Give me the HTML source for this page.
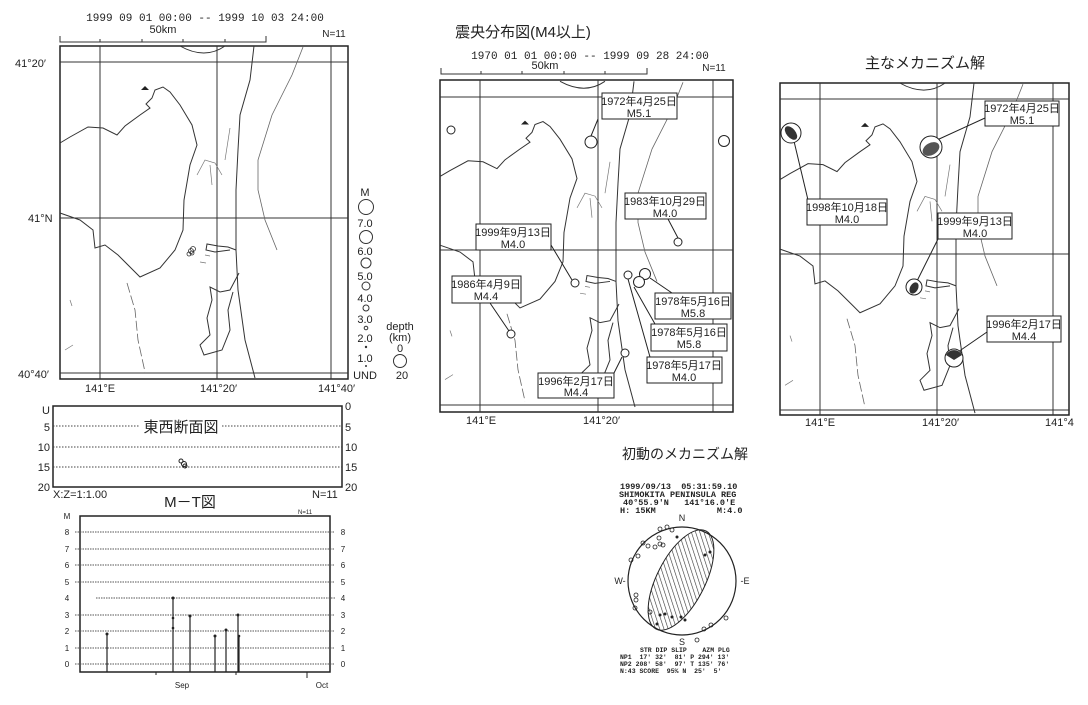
<!DOCTYPE html>
<html><head><meta charset="utf-8">
<style>
html,body{margin:0;padding:0;background:#fff;width:1088px;height:705px;overflow:hidden}
svg{display:block}
text{font-family:"Liberation Sans","Noto Sans CJK JP",sans-serif;fill:#222}
.m,.m text{font-family:"Liberation Mono","Noto Sans CJK JP",monospace;white-space:pre}
.lb{font-family:"Liberation Sans Narrow","Liberation Sans","Noto Sans CJK JP",sans-serif;font-size:11px}
</style></head><body>
<svg width="1088" height="705" viewBox="0 0 1088 705" xmlns="http://www.w3.org/2000/svg" xml:space="preserve">
<defs>
<pattern id="h" width="4" height="4" patternUnits="userSpaceOnUse" patternTransform="rotate(45)">
<line x1="0" y1="0" x2="0" y2="4" stroke="#333" stroke-width="1.2"/></pattern>
<g id="coast" fill="none" stroke="#333" stroke-width="1">
<path d="M60,143 L70,137 L88,127 L103,128 L117,135 L125,126 L140,115 L150,108 L146,104 L152,98 L155,90 L163,87 L170,92 L180,105 L192,125 L197,145 L190,165 L184,200 L183,230 L175,250 L160,268 L140,277 L133,270 L118,255 L105,245 L95,248 L93,230 L80,220 L60,213"/>
<path d="M254,46 L250,80 L240,115 L238,150 L236,190 L236,250 L238,290 L245,340 L255,378"/>
<path d="M303,47 L292,75 L272,115 L258,160 L258,190 L265,220 L277,250" stroke="#666" stroke-width="0.8"/>
<path d="M180,46 Q205,60 225,46"/>
<path d="M236,250 L228,247 L218,246 L207,244 L206,250 L215,252 L230,250"/>
<path d="M239,273 L230,290 L220,292 L210,287 L212,300 L207,318 L210,335 L200,345 L204,355 L222,350 L230,330 L228,310 L233,292"/>
<path d="M127,283 L135,310 L138,340 L145,372" stroke="#666" stroke-width="0.8" stroke-dasharray="10,3"/>
<path d="M197,175 L205,160 L215,163 L222,175 M210,165 L212,185 M230,128 L225,160" stroke="#777" stroke-width="0.7"/>
<path d="M65,350 L73,345 M70,300 L72,306 M200,262 L206,263 M205,255 L210,256" stroke="#777" stroke-width="0.7"/>
<path d="M141,90 L145,86 L149,90 Z" fill="#222" stroke="none"/>
</g>
</defs>

<!-- LEFT MAP -->
<text x="205" y="21" font-size="11" text-anchor="middle" class="m">1999 09 01 00:00 -- 1999 10 03 24:00</text>
<text x="163" y="33" font-size="11" text-anchor="middle">50km</text>
<text x="334" y="37" font-size="10" text-anchor="middle">N=11</text>
<path d="M60,36 V42 H266 V36 M100,42 V39 M142,42 V39 M183,42 V39 M225,42 V39" fill="none" stroke="#333"/>
<rect x="60" y="46" width="288" height="333" fill="none" stroke="#222" stroke-width="1.5"/>
<path d="M60,62 H348 M60,218 H348 M60,373 H348 M100,46 V379 M217,46 V379 M331,46 V379" stroke="#333" stroke-width="1"/>
<use href="#coast"/>
<g fill="none" stroke="#333" stroke-width="0.8"><circle cx="191" cy="251" r="2.5"/><circle cx="193" cy="249" r="2.5"/><circle cx="189" cy="254" r="2"/><circle cx="192" cy="253" r="2"/></g>
<text x="15" y="67" font-size="11">41°20′</text>
<text x="28" y="222" font-size="11">41°N</text>
<text x="18" y="378" font-size="11">40°40′</text>
<text x="85" y="392" font-size="11">141°E</text>
<text x="200" y="392" font-size="11">141°20′</text>
<text x="318" y="392" font-size="11">141°40′</text>
<g font-size="11" text-anchor="middle">
<text x="365" y="196">M</text>
<text x="365" y="227">7.0</text><text x="365" y="255">6.0</text><text x="365" y="280">5.0</text><text x="365" y="302">4.0</text><text x="365" y="323">3.0</text><text x="365" y="342">2.0</text><text x="365" y="362">1.0</text><text x="365" y="379">UND</text>
<text x="400" y="330">depth</text><text x="400" y="341">(km)</text><text x="400" y="352">0</text><text x="402" y="379">20</text>
</g>
<g fill="none" stroke="#333"><circle cx="366" cy="207" r="7.5"/><circle cx="366" cy="237" r="6.5"/><circle cx="366" cy="263" r="5"/><circle cx="366" cy="286" r="4"/><circle cx="366" cy="308" r="3"/><circle cx="366" cy="328" r="1.8"/><circle cx="400" cy="361" r="6.5"/></g>
<circle cx="366" cy="347" r="1.2" fill="#333"/><circle cx="366" cy="366" r="1" fill="#333"/>

<!-- CROSS SECTION -->
<rect x="53" y="406" width="289" height="81" fill="none" stroke="#222" stroke-width="1.5"/>
<path d="M53,426 H140 M222,426 H342 M53,447 H342 M53,467 H342" stroke="#444" stroke-dasharray="1.5,1.5"/>
<text x="181" y="432" font-size="15" text-anchor="middle">東西断面図</text>
<g font-size="11" text-anchor="end"><text x="50" y="414">U</text><text x="50" y="431">5</text><text x="50" y="451">10</text><text x="50" y="471">15</text><text x="50" y="491">20</text></g>
<g font-size="11"><text x="345" y="410">0</text><text x="345" y="431">5</text><text x="345" y="451">10</text><text x="345" y="471">15</text><text x="345" y="491">20</text></g>
<g fill="none" stroke="#222"><circle cx="181" cy="461" r="2"/><circle cx="184" cy="464" r="2.5"/><circle cx="185" cy="466" r="2"/></g>
<text x="53" y="498" font-size="11">X:Z=1:1.00</text>
<text x="312" y="498" font-size="11">N=11</text>

<!-- M-T -->
<text x="190" y="507" font-size="15" text-anchor="middle">M－T図</text>
<text x="298" y="514" font-size="6">N=11</text>
<rect x="80" y="516" width="250" height="156" fill="none" stroke="#222" stroke-width="1.5"/>
<g stroke="#555" stroke-dasharray="1.5,1"><path d="M75,532H335M75,549H335M75,565H335M75,582H335M96,598H335M75,615H335M75,631H335M75,648H335M75,664H335"/></g>
<g font-size="8" text-anchor="middle"><text x="67" y="519">M</text>
<text x="67" y="535">8</text><text x="67" y="552">7</text><text x="67" y="568">6</text><text x="67" y="585">5</text><text x="67" y="601">4</text><text x="67" y="618">3</text><text x="67" y="634">2</text><text x="67" y="651">1</text><text x="67" y="667">0</text>
<text x="343" y="535">8</text><text x="343" y="552">7</text><text x="343" y="568">6</text><text x="343" y="585">5</text><text x="343" y="601">4</text><text x="343" y="618">3</text><text x="343" y="634">2</text><text x="343" y="651">1</text><text x="343" y="667">0</text>
<text x="182" y="688">Sep</text><text x="322" y="688">Oct</text></g>
<g stroke="#222" stroke-width="1.2"><path d="M107,634V672M173,598V672M190,616V672M215,636V672M226,630V672M238,615V672M239,636V672"/></g>
<g fill="#222"><circle cx="107" cy="634" r="1.5"/><circle cx="173" cy="598" r="1.5"/><circle cx="173" cy="618" r="1.3"/><circle cx="173" cy="628" r="1.3"/><circle cx="190" cy="616" r="1.5"/><circle cx="215" cy="636" r="1.5"/><circle cx="226" cy="630" r="1.5"/><circle cx="238" cy="615" r="1.5"/><circle cx="239" cy="636" r="1.3"/></g>
<path d="M156,672v3M236,672v3M307,672v6" stroke="#222"/>

<!-- MIDDLE MAP -->
<text x="523" y="37" font-size="15" text-anchor="middle">震央分布図(M4以上)</text>
<text x="590" y="59" font-size="11" text-anchor="middle" class="m">1970 01 01 00:00 -- 1999 09 28 24:00</text>
<text x="545" y="69" font-size="11" text-anchor="middle">50km</text>
<text x="714" y="71" font-size="10" text-anchor="middle">N=11</text>
<path d="M441,68 V74 H647 V68 M481,74 V71 M522,74 V71 M564,74 V71 M605,74 V71" fill="none" stroke="#333"/>
<rect x="440" y="80" width="293" height="332" fill="none" stroke="#222" stroke-width="1.5"/>
<path d="M440,97 H733 M440,250 H733 M440,405 H733 M480,80 V412 M598,80 V412 M713,80 V412" stroke="#333"/>
<g transform="translate(380,36.2) scale(1,0.981)"><use href="#coast"/></g>
<g fill="#fff" stroke="#222" stroke-width="1">
<path d="M598,119 L591,136 M668,219 L678,238 M551,245 L572,280 M490,303 L509,331 M650,278 L672,293 M634,287 L655,324 M628,279 L650,357 M614,373 L622,357" fill="none"/>
<circle cx="451" cy="130" r="4"/><circle cx="591" cy="142" r="6"/><circle cx="724" cy="141" r="5.5"/><circle cx="678" cy="242" r="4"/><circle cx="575" cy="283" r="4"/><circle cx="511" cy="334" r="4"/><circle cx="628" cy="275" r="4"/><circle cx="645" cy="274" r="5.5"/><circle cx="639" cy="282" r="5.5"/><circle cx="625" cy="353" r="4"/>
<rect x="602" y="93" width="75" height="26"/><rect x="625" y="193" width="81" height="26"/><rect x="476" y="224" width="75" height="26"/><rect x="452" y="276" width="69" height="27"/><rect x="655" y="293" width="76" height="26"/><rect x="651" y="324" width="76" height="27"/><rect x="647" y="357" width="75" height="26"/><rect x="538" y="373" width="76" height="25"/>
</g>
<g class="lb" text-anchor="middle">
<text x="639" y="105">1972年4月25日</text><text x="639" y="117">M5.1</text>
<text x="665" y="205">1983年10月29日</text><text x="665" y="217">M4.0</text>
<text x="513" y="236">1999年9月13日</text><text x="513" y="248">M4.0</text>
<text x="486" y="288">1986年4月9日</text><text x="486" y="300">M4.4</text>
<text x="693" y="305">1978年5月16日</text><text x="693" y="317">M5.8</text>
<text x="689" y="336">1978年5月16日</text><text x="689" y="348">M5.8</text>
<text x="684" y="369">1978年5月17日</text><text x="684" y="381">M4.0</text>
<text x="576" y="385">1996年2月17日</text><text x="576" y="396">M4.4</text>
</g>
<text x="466" y="424" font-size="11">141°E</text>
<text x="583" y="424" font-size="11">141°20′</text>

<!-- RIGHT MAP -->
<text x="925" y="68" font-size="15" text-anchor="middle">主なメカニズム解</text>
<rect x="780" y="83" width="289" height="332" fill="none" stroke="#222" stroke-width="1.5"/>
<path d="M780,99 H1069 M780,254 H1069 M780,410 H1069 M820,83 V415 M937,83 V415 M1053,83 V415" stroke="#333"/>
<g transform="translate(720,37.4) scale(1,0.994)"><use href="#coast"/></g>
<g stroke="#222" fill="none"><path d="M937,140 L985,118 M793,137 L808,200 M938,239 L916,283 M987,332 L958,352"/></g>
<g stroke="#222" fill="#fff">
<circle cx="931" cy="147" r="11"/><circle cx="791" cy="133" r="10"/><circle cx="914" cy="287" r="8"/><circle cx="954" cy="358" r="9"/>
</g>
<g fill="#333">
<ellipse cx="931" cy="149" rx="9" ry="6" transform="rotate(-30 931 149)" fill="#555"/>
<ellipse cx="791" cy="133" rx="8" ry="4.5" transform="rotate(50 791 133)"/>
<ellipse cx="914" cy="288" rx="6" ry="4" transform="rotate(-60 914 288)"/>
<path d="M946,355 A9,9 0 0 1 962,355 L954,360 Z"/>
</g>
<g fill="#fff" stroke="#222">
<rect x="985" y="101" width="74" height="25"/><rect x="807" y="199" width="80" height="26"/><rect x="938" y="213" width="74" height="26"/><rect x="987" y="316" width="74" height="26"/>
</g>
<g class="lb" text-anchor="middle">
<text x="1022" y="112">1972年4月25日</text><text x="1022" y="124">M5.1</text>
<text x="847" y="211">1998年10月18日</text><text x="847" y="223">M4.0</text>
<text x="975" y="225">1999年9月13日</text><text x="975" y="237">M4.0</text>
<text x="1024" y="328">1996年2月17日</text><text x="1024" y="340">M4.4</text>
</g>
<text x="805" y="426" font-size="11">141°E</text>
<text x="922" y="426" font-size="11">141°20′</text>
<text x="1045" y="426" font-size="11">141°4</text>

<!-- MECHANISM -->
<text x="685" y="459" font-size="14" text-anchor="middle">初動のメカニズム解</text>
<g class="m" font-size="8.5" font-weight="bold">
<text x="620" y="489">1999/09/13  05:31:59.10</text>
<text x="619" y="497">SHIMOKITA PENINSULA REG</text>
<text x="623" y="505">40°55.9'N   141°16.0'E</text>
<text x="620" y="513">H: 15KM            M:4.0</text>
</g>
<g class="m" font-size="6.5" font-weight="bold">
<text x="640" y="652">STR DIP SLIP    AZM PLG</text>
<text x="620" y="659">NP1  17' 32'  81' P 294' 13'</text>
<text x="620" y="666">NP2 208' 58'  97' T 135' 76'</text>
<text x="620" y="673">N:43 SCORE  95% N  25'  5'</text>
</g>
<circle cx="682" cy="581" r="54" fill="none" stroke="#222" stroke-width="1.2"/>
<ellipse cx="681" cy="580" rx="55" ry="24" transform="rotate(-63 681 580)" fill="url(#h)" stroke="#222"/>
<g font-size="9" text-anchor="middle"><text x="682" y="521">N</text><text x="682" y="645">S</text><text x="620" y="584">W-</text><text x="745" y="584">-E</text></g>
<g fill="none" stroke="#222" stroke-width="0.8"><circle cx="660" cy="529" r="2"/><circle cx="667" cy="527" r="2"/><circle cx="672" cy="530" r="2"/><circle cx="659" cy="538" r="2"/><circle cx="660" cy="544" r="2"/><circle cx="643" cy="543" r="2"/><circle cx="648" cy="546" r="2"/><circle cx="655" cy="547" r="2"/><circle cx="663" cy="545" r="2"/><circle cx="638" cy="556" r="2"/><circle cx="631" cy="560" r="2"/><circle cx="636" cy="595" r="2"/><circle cx="636" cy="600" r="2"/><circle cx="635" cy="608" r="2"/><circle cx="650" cy="612" r="2"/><circle cx="704" cy="629" r="2"/><circle cx="711" cy="625" r="2"/><circle cx="697" cy="640" r="2"/><circle cx="726" cy="618" r="2"/></g>
<g fill="#222"><circle cx="677" cy="537" r="1.5"/><circle cx="660" cy="615" r="1.5"/><circle cx="665" cy="614" r="1.5"/><circle cx="672" cy="617" r="1.5"/><circle cx="681" cy="617" r="1.5"/><circle cx="685" cy="620" r="1.5"/><circle cx="705" cy="555" r="1.5"/><circle cx="710" cy="552" r="1.5"/><circle cx="657" cy="624" r="1.5"/></g>
</svg>
</body></html>
